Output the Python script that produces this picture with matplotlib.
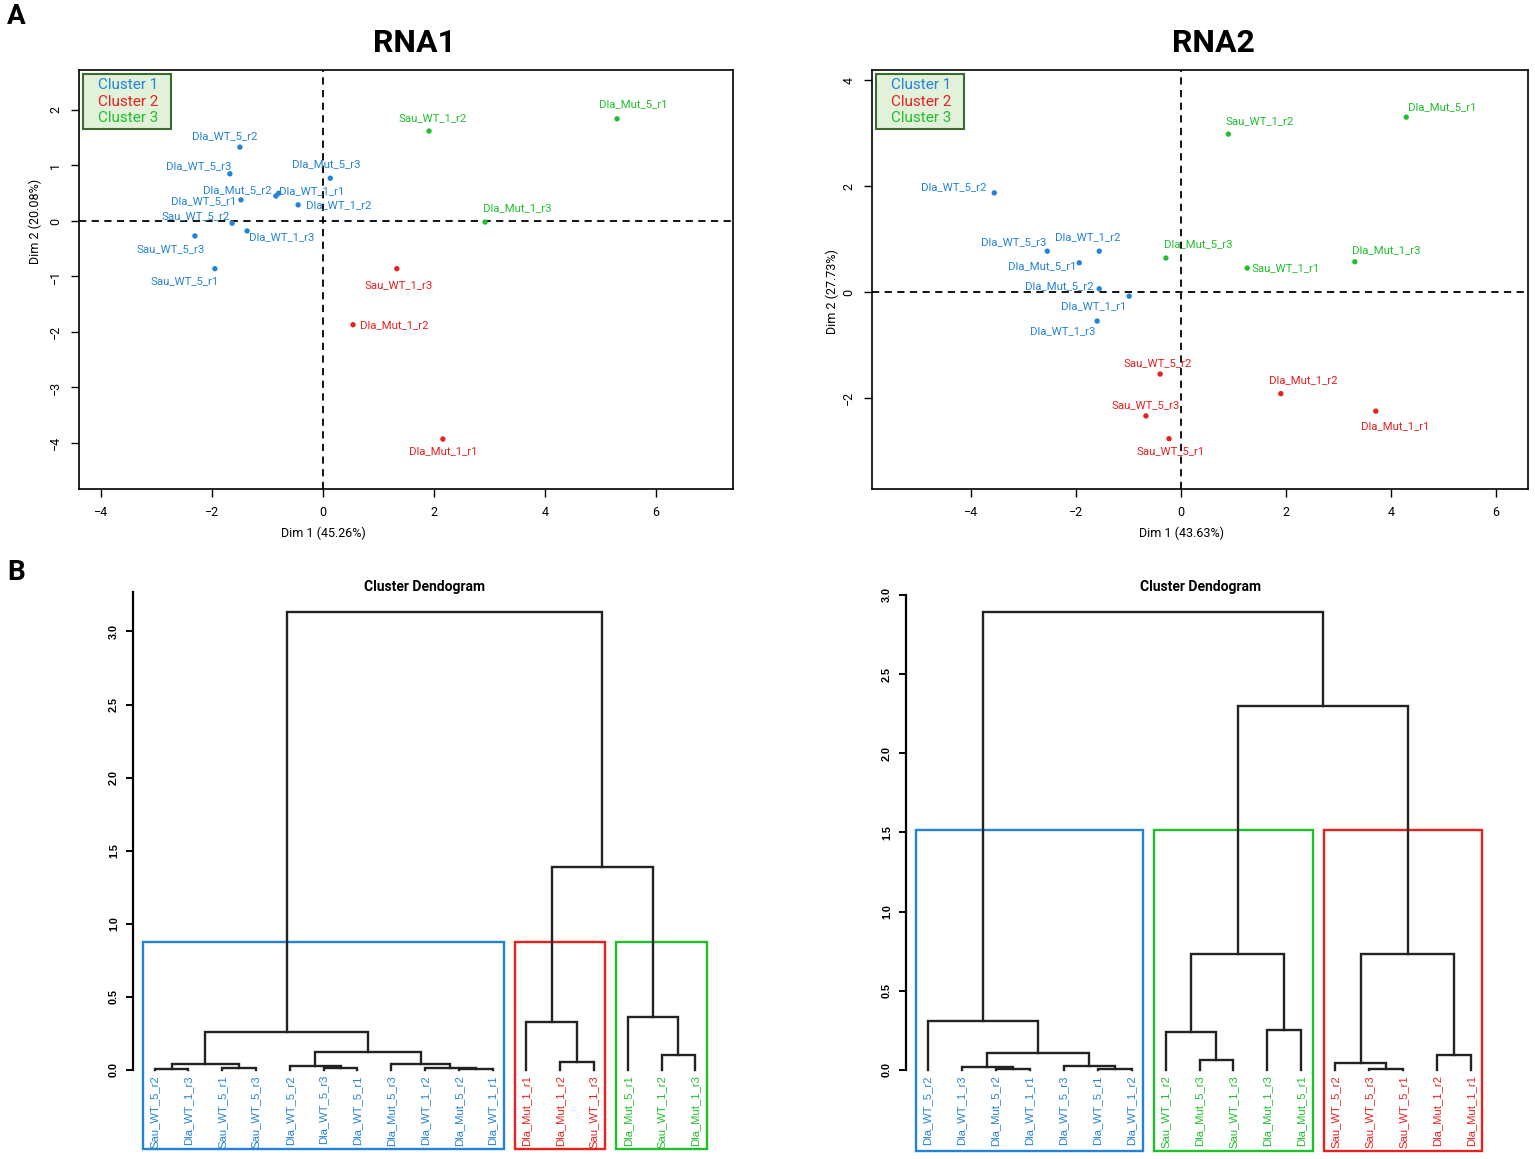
import numpy as np
import matplotlib; matplotlib.use("Agg")
import matplotlib.pyplot as plt
import matplotlib.transforms as mtransforms
from matplotlib.patches import Rectangle

plt.rcParams['font.family'] = ['Roboto', 'DejaVu Sans']

BLUE, RED, GREEN = "#2383d9", "#e8201e", "#1fc02b"
ccol = {1: BLUE, 2: RED, 3: GREEN}
legend_labels = ["Cluster 1", "Cluster 2", "Cluster 3"]

# ---- PCA, RNA1 ----
pca1_names = ["Dla_Mut_5_r1", "Sau_WT_1_r2", "Dla_WT_5_r2", "Dla_Mut_5_r3", "Dla_WT_5_r3",
              "Dla_Mut_5_r2", "Dla_WT_1_r1", "Dla_WT_5_r1", "Dla_WT_1_r2", "Sau_WT_5_r2",
              "Dla_WT_1_r3", "Sau_WT_5_r3", "Sau_WT_5_r1", "Dla_Mut_1_r3", "Sau_WT_1_r3",
              "Dla_Mut_1_r2", "Dla_Mut_1_r1"]
pca1_dim1 = [5.30, 1.91, -1.50, 0.13, -1.68, -0.85, -0.80, -1.48, -0.45, -1.64,
             -1.37, -2.31, -1.95, 2.92, 1.33, 0.54, 2.16]
pca1_dim2 = [1.84, 1.62, 1.33, 0.77, 0.85, 0.45, 0.50, 0.38, 0.29, -0.04,
             -0.18, -0.27, -0.86, -0.02, -0.86, -1.87, -3.93]
pca1_clus = [3, 3, 1, 1, 1, 1, 1, 1, 1, 1, 1, 1, 1, 3, 2, 2, 2]
# label offsets (pixels)
pca1_offs = [(16, 15), (4, 13), (-15, 11), (-4, 14), (-31, 8), (-39, 6), (33, 2), (-37, -1),
             (41, 0), (-36, 7), (35, -6), (-24, -13), (-30, -12), (32, 14), (2, -16),
             (41, 0), (0, -12)]

# ---- PCA, RNA2 ----
pca2_names = ["Dla_Mut_5_r1", "Sau_WT_1_r2", "Dla_WT_5_r2", "Dla_WT_5_r3", "Dla_WT_1_r2",
              "Dla_Mut_5_r1", "Dla_Mut_5_r2", "Dla_WT_1_r1", "Dla_WT_1_r3", "Dla_Mut_5_r3",
              "Sau_WT_1_r1", "Dla_Mut_1_r3", "Sau_WT_5_r2", "Dla_Mut_1_r2", "Sau_WT_5_r3",
              "Sau_WT_5_r1", "Dla_Mut_1_r1"]
pca2_dim1 = [4.29, 0.90, -3.56, -2.55, -1.56, -1.94, -1.56, -0.99, -1.60, -0.29,
             1.26, 3.31, -0.40, 1.90, -0.67, -0.23, 3.71]
pca2_dim2 = [3.30, 2.98, 1.87, 0.77, 0.77, 0.55, 0.06, -0.08, -0.55, 0.64,
             0.45, 0.57, -1.55, -1.92, -2.34, -2.77, -2.25]
pca2_clus = [3, 3, 1, 1, 1, 1, 1, 1, 1, 3, 3, 3, 2, 2, 2, 2, 2]
pca2_offs = [(36, 10), (31, 13), (-41, 6), (-34, 9), (-11, 14), (-37, -3), (-40, 3), (-35, -10),
             (-34, -10), (32, 14), (38, 0), (31, 12), (-2, 11), (22, 14), (0, 11), (2, -12),
             (19, -15)]

# ---- dendrograms: leaf order, cluster, merge tree (a, b, height) ----
den1_leaves = ["Sau_WT_5_r2", "Dla_WT_1_r3", "Sau_WT_5_r1", "Sau_WT_5_r3", "Dla_WT_5_r2",
               "Dla_WT_5_r3", "Dla_WT_5_r1", "Dla_Mut_5_r3", "Dla_WT_1_r2", "Dla_Mut_5_r2",
               "Dla_WT_1_r1", "Dla_Mut_1_r1", "Dla_Mut_1_r2", "Sau_WT_1_r3", "Dla_Mut_5_r1",
               "Sau_WT_1_r2", "Dla_Mut_1_r3"]
den1_clus = [1] * 11 + [2] * 3 + [3] * 3
den1_blue = (((0, 1, 0.005), (2, 3, 0.010), 0.041),
             ((4, (5, 6, 0.010), 0.027), (7, (8, (9, 10, 0.003), 0.016), 0.039), 0.125), 0.26)
den1_red = (11, (12, 13, 0.057), 0.33)
den1_green = (14, (15, 16, 0.10), 0.365)
den1_tree = (den1_blue, (den1_red, den1_green, 1.39), 3.13)

den2_leaves = ["Dla_WT_5_r2", "Dla_WT_1_r3", "Dla_Mut_5_r2", "Dla_WT_1_r1", "Dla_WT_5_r3",
               "Dla_WT_5_r1", "Dla_WT_1_r2", "Sau_WT_1_r2", "Dla_Mut_5_r3", "Sau_WT_1_r3",
               "Dla_Mut_1_r3", "Dla_Mut_5_r1", "Sau_WT_5_r2", "Sau_WT_5_r3", "Sau_WT_5_r1",
               "Dla_Mut_1_r2", "Dla_Mut_1_r1"]
den2_clus = [1] * 7 + [3] * 5 + [2] * 5
den2_blue = (0, ((1, (2, 3, 0.004), 0.017), (4, (5, 6, 0.004), 0.025), 0.105), 0.31)
den2_green = ((7, (8, 9, 0.063), 0.24), (10, 11, 0.25), 0.735)
den2_red = ((12, (13, 14, 0.006), 0.042), (15, 16, 0.095), 0.73)
den2_tree = (den2_blue, (den2_green, den2_red, 2.30), 2.89)

W, H = 1535, 1159
fig = plt.figure(figsize=(W / 100, H / 100), dpi=100)


def box(x0, y0, x1, y1):
    return [x0 / W, 1 - y1 / H, (x1 - x0) / W, (y1 - y0) / H]


def pca_panel(rect, xs, ys, cl, names, offs, xlim, ylim, yticks, xlab, ylab, ylab_dx):
    ax = fig.add_axes(rect)
    ax.axhline(0, color="black", ls=(0, (4, 3)), lw=1.3)
    ax.axvline(0, color="black", ls=(0, (4, 3)), lw=1.3)
    cols = [ccol[c] for c in cl]
    ax.scatter(xs, ys, s=15, c=cols, zorder=3, linewidths=0)
    for x, y, n, c, (dx, dy) in zip(xs, ys, names, cols, offs):
        ax.annotate(n, (x, y), xytext=(dx, dy), textcoords="offset pixels",
                    ha="center", va="center", color=c, fontsize=8.2)
    ax.set_xlim(*xlim); ax.set_ylim(*ylim)
    ax.set_xticks([-4, -2, 0, 2, 4, 6]); ax.set_yticks(yticks)
    ax.tick_params(direction="out", length=6, width=1, labelsize=9, pad=6)
    ax.tick_params(axis="y", labelrotation=90)
    for t in ax.get_yticklabels():
        t.set_va("center")
    for s in ax.spines.values():
        s.set_linewidth(1.2)
    bx = mtransforms.blended_transform_factory(ax.transData, ax.transAxes)
    ax.annotate(xlab, (0, 0), xycoords=bx, xytext=(0, -44), textcoords="offset pixels",
                ha="center", va="center", fontsize=9)
    by = mtransforms.blended_transform_factory(ax.transAxes, ax.transData)
    ax.annotate(ylab, (0, 0), xycoords=by, xytext=(-ylab_dx, 0), textcoords="offset pixels",
                ha="center", va="center", fontsize=9, rotation=90)
    # legend box at the top-left corner, sized in pixels (1 px = 0.01 in)
    corner = fig.dpi_scale_trans + mtransforms.ScaledTranslation(
        rect[0] * W / 100, (rect[1] + rect[3]) * H / 100, fig.dpi_scale_trans)
    ax.add_patch(Rectangle((0.04, -0.59), 0.88, 0.55, transform=corner, clip_on=False,
                           facecolor="#e1f1da", edgecolor="#3c6b2c", lw=1.5, zorder=5))
    for i, t in enumerate(legend_labels):
        ax.text(0.49, -0.15 - i * 0.165, t, transform=corner, ha="center", va="center",
                color=ccol[i + 1], fontsize=11, zorder=6)
    return ax


def draw_tree(ax, node, hs):
    if isinstance(node, int):
        return node + 1, 0.0
    a, b, h = node
    xa, ha = draw_tree(ax, a, hs)
    xb, hb = draw_tree(ax, b, hs)
    ax.plot([xa, xa, xb, xb], [ha, h, h, hb], color="#222222", lw=1.7,
            solid_joinstyle="miter")
    hs.append(h)
    return (xa + xb) / 2, h


def dendro_panel(rect, leaves, clus, tree, ylim, ytop):
    ax = fig.add_axes(rect)
    n = len(leaves)
    hs = []
    draw_tree(ax, tree, hs)
    hs = sorted(hs)
    k = len(set(clus))
    rtop = (hs[-k] + hs[-k + 1]) / 2
    for i, (lab, c) in enumerate(zip(leaves, clus)):
        ax.text(i + 1, -0.035, lab, rotation=90, ha="center", va="top", color=ccol[c],
                fontsize=8.1, family=["Liberation Sans", "DejaVu Sans"])
    # cluster rectangles
    start = 0
    for c in dict.fromkeys(clus):
        size = clus.count(c)
        x0 = start + 0.66
        x1 = start + size + 0.33
        ax.add_patch(Rectangle((x0, ylim[0] + 0.005), x1 - x0, rtop - ylim[0] - 0.005,
                               fill=False, edgecolor=ccol[c], lw=1.7, clip_on=False))
        start += size
    ax.set_xlim(1 - 0.04 * (n - 1), n + 0.04 * (n - 1))
    ax.set_ylim(*ylim)
    for s in ["top", "right", "bottom"]:
        ax.spines[s].set_visible(False)
    ax.spines["left"].set_bounds(0, ytop)
    ax.spines["left"].set_linewidth(1.6)
    ax.set_xticks([])
    ax.set_yticks(np.arange(0, 3.01, 0.5))
    ax.set_yticklabels([f"{v:.1f}" for v in np.arange(0, 3.01, 0.5)],
                       family=["Liberation Sans", "DejaVu Sans"], fontweight="bold")
    ax.tick_params(axis="y", direction="out", length=5, width=1.4, labelsize=7.8,
                   labelrotation=90, pad=5)
    for t in ax.get_yticklabels():
        t.set_va("center")
    return ax


pca_panel(box(79, 70, 733, 489), pca1_dim1, pca1_dim2, pca1_clus, pca1_names, pca1_offs,
          (-4.40, 7.39), (-4.83, 2.72), [-4, -3, -2, -1, 0, 1, 2],
          "Dim 1 (45.26%)", "Dim 2 (20.08%)", 44)
pca_panel(box(872, 70, 1528, 489), pca2_dim1, pca2_dim2, pca2_clus, pca2_names, pca2_offs,
          (-5.89, 6.61), (-3.72, 4.19), [-2, 0, 2, 4],
          "Dim 1 (43.63%)", "Dim 2 (27.73%)", 40)

dendro_panel(box(133, 592, 717, 1150), den1_leaves, den1_clus, den1_tree, (-0.548, 3.27), 3.27)
dendro_panel(box(906, 595, 1493, 1152), den2_leaves, den2_clus, den2_tree, (-0.519, 3.0), 3.0)

# titles and panel letters
fig.text(414 / W, 1 - 43 / H, "RNA1", ha="center", va="center", fontsize=23, fontweight="bold")
fig.text(1213 / W, 1 - 43 / H, "RNA2", ha="center", va="center", fontsize=23, fontweight="bold")
fig.text(425 / W, 1 - 587 / H, "Cluster Dendogram", ha="center", va="center",
         fontsize=10, fontweight="bold")
fig.text(1200 / W, 1 - 587 / H, "Cluster Dendogram", ha="center", va="center",
         fontsize=10, fontweight="bold")
fig.text(16 / W, 1 - 17 / H, "A", ha="center", va="center", fontsize=20, fontweight="bold")
fig.text(16 / W, 1 - 572 / H, "B", ha="center", va="center", fontsize=20, fontweight="bold")

fig.savefig("out.png", dpi=100)
